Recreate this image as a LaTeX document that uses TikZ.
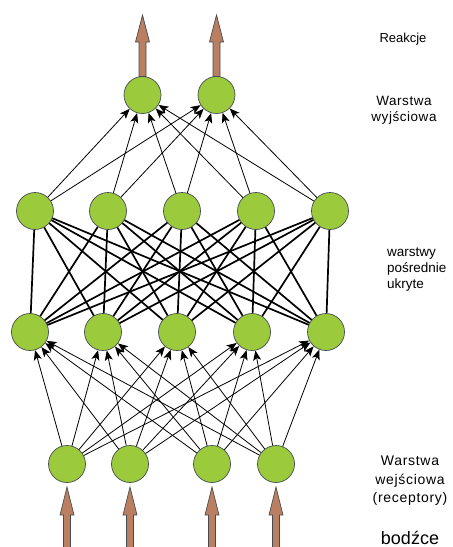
\documentclass[tikz,border=0pt]{standalone}
\usepackage{fontspec}
\setmainfont{Liberation Sans}
\usetikzlibrary{arrows.meta}
\definecolor{nfill}{RGB}{155,203,60}
\definecolor{nline}{RGB}{70,75,80}
\definecolor{bigbrown}{RGB}{186,126,96}
\tikzset{
  neuron/.style={circle,fill=nfill,draw=nline,line width=0.7pt,minimum size=37pt,inner sep=0pt},
  feed/.style={black,line width=0.8pt,-{Stealth[length=10pt,width=8pt,inset=2.5pt]}},
  dense/.style={black,line width=1.7pt},
  bigarrow/.style={fill=bigbrown,draw=nline,line width=0.7pt},
  lbl/.style={font=\fontsize{13}{15}\selectfont,align=center,inner sep=0pt},
}
\begin{document}
\begin{tikzpicture}[x=1pt,y=-1pt]
\useasboundingbox (0,0) rectangle (453,547);
% output layer
\node[neuron] (o1) at (142.5,95) {};
\node[neuron] (o2) at (216.5,95) {};
% hidden top
\foreach \i/\x in {1/35,2/108,3/182,4/256,5/330}
  \node[neuron] (h\i) at (\x,211) {};
% hidden bottom
\foreach \i/\x in {1/30,2/103,3/177,4/252,5/326}
  \node[neuron] (g\i) at (\x,332) {};
% input
\foreach \i/\x in {1/67,2/130,3/212,4/276}
  \node[neuron] (x\i) at (\x,464) {};
% dense connections between hidden layers
\foreach \i in {1,...,5}
  \foreach \j in {1,...,5}
    \draw[dense] (h\i) -- (g\j);
% hidden top -> output
\foreach \i in {1,...,5}
  \foreach \j in {1,2}
    \draw[feed] (h\i) -- (o\j);
% input -> hidden bottom
\foreach \i in {1,...,4}
  \foreach \j in {1,...,5}
    \draw[feed] (x\i) -- (g\j);
% big output arrows
\foreach \j/\x in {1/142.5,2/216.5}{
  \coordinate (ot\j) at (\x,15);
  \draw[bigarrow] (ot\j) -- ++(7,27) -- ++(-3.5,0) -- ++(0,34.5) -- ++(-7,0) -- ++(0,-34.5) -- ++(-3.5,0) -- cycle;
}
% big input arrows
\foreach \j/\x in {1/67,2/130,3/212,4/276}{
  \coordinate (it\j) at (\x,487);
  \draw[bigarrow] (it\j) -- ++(7,28) -- ++(-3.5,0) -- ++(0,33) -- ++(-7,0) -- ++(0,-33) -- ++(-3.5,0) -- cycle;
}
% labels
\node[lbl,font=\fontsize{13}{15}\selectfont] (t1) at (403,39) {Reakcje};
\node[lbl,font=\fontsize{13.5}{16}\selectfont\addfontfeatures{LetterSpace=4}] (t2) at (404,110) {Warstwa\\wyjściowa};
\node[lbl,align=left,anchor=west,font=\fontsize{13.5}{16}\selectfont] (t3) at (387,270) {warstwy\\pośrednie\\ukryte};
\node[lbl,font=\fontsize{14}{18.5}\selectfont\addfontfeatures{LetterSpace=5}] (t4) at (410,481) {Warstwa\\wejściowa\\(receptory)};
\node[lbl,font=\fontsize{18}{20}\selectfont] (t5) at (410,538) {bodźce};
\end{tikzpicture}
\end{document}
